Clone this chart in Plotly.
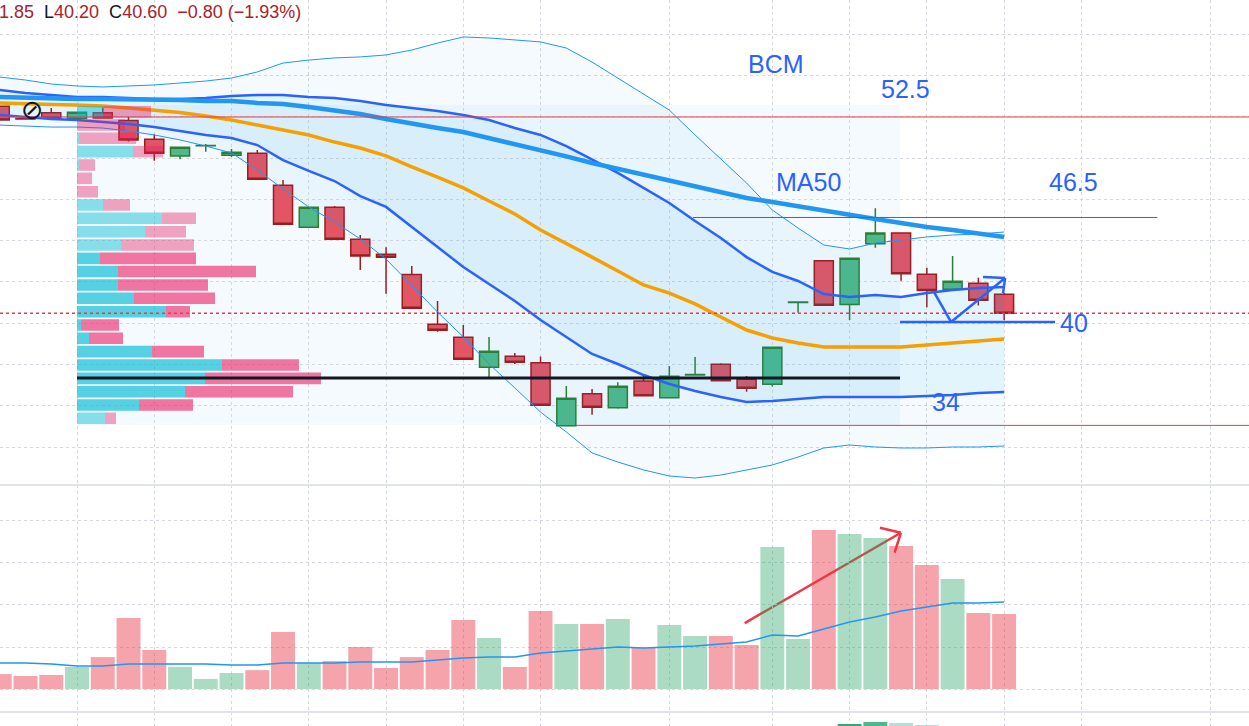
import plotly.graph_objects as go
from plotly.subplots import make_subplots

# 40 daily sessions, bar index 0..39 (last one is the current bar)
bars = list(range(40))

opens = [53.15, 52.40, 52.76, 52.42, 52.75, 52.28, 51.15, 50.14, 50.75, 50.18,
         50.30, 48.36, 45.82, 47.03, 45.09, 44.18, 42.96, 39.94, 39.15, 37.33,
         38.00, 37.61, 33.79, 35.72, 34.88, 36.50, 35.49, 36.87, 37.52, 36.61,
         36.30, 41.26, 43.78, 41.13, 44.82, 45.47, 42.97, 42.06, 42.42, 41.75]
highs = [53.20, 52.42, 53.05, 52.79, 53.20, 52.50, 51.45, 50.67, 50.87, 50.56,
         50.50, 48.68, 47.03, 47.11, 45.35, 44.61, 43.47, 41.35, 39.90, 39.17,
         38.20, 37.98, 36.20, 36.02, 36.42, 36.81, 37.41, 37.96, 37.58, 36.81,
         38.55, 41.28, 43.78, 43.94, 46.97, 45.47, 43.37, 44.08, 42.75, 41.85]
lows = [52.30, 52.36, 52.42, 52.42, 52.44, 51.01, 49.85, 49.94, 50.40, 50.08,
        48.73, 46.00, 45.82, 45.09, 43.23, 41.78, 40.91, 39.49, 37.82, 36.67,
        37.53, 35.03, 33.79, 34.46, 34.82, 35.61, 35.49, 36.86, 36.52, 35.85,
        36.16, 40.64, 41.09, 40.20, 44.58, 42.58, 40.97, 42.06, 41.07, 40.20]
closes = [52.32, 52.38, 52.42, 52.79, 52.44, 51.11, 50.30, 50.67, 50.77, 50.36,
          48.73, 46.00, 47.03, 45.09, 44.08, 44.00, 40.91, 39.58, 37.82, 38.30,
          37.64, 35.03, 35.45, 34.91, 36.18, 35.61, 36.79, 36.89, 36.52, 36.06,
          38.55, 41.28, 41.09, 43.94, 45.47, 43.00, 41.98, 42.55, 41.40, 40.60]

# volume in thousands of shares + its moving average
volume = [71, 62, 67, 105, 152, 338, 186, 105, 48, 76,
          90, 271, 124, 133, 200, 100, 152, 186, 329, 243,
          105, 371, 310, 310, 333, 195, 305, 252, 252, 210,
          676, 238, 757, 738, 719, 681, 590, 524, 362, 357]
volume_ma = [124, 124, 119, 110, 110, 119, 119, 119, 119, 114,
             114, 124, 124, 124, 129, 129, 129, 138, 148, 152,
             152, 171, 181, 190, 200, 195, 200, 205, 214, 224,
             257, 252, 286, 319, 343, 371, 390, 409, 409, 414]

# Bollinger bands (basis, 1 sigma, 2 sigma) and MA50
bb_basis = [53.35, 53.29, 53.26, 53.23, 53.17, 53.05, 52.92, 52.77, 52.56, 52.32,
            52.01, 51.71, 51.41, 50.98, 50.62, 50.14, 49.47, 48.86, 48.20, 47.41,
            46.62, 45.65, 44.80, 44.01, 43.17, 42.32, 41.83, 41.17, 40.38, 39.59,
            39.11, 38.80, 38.56, 38.56, 38.56, 38.56, 38.68, 38.80, 38.92, 39.05]
bb_up1 = [54.14, 53.95, 53.83, 53.71, 53.71, 53.65, 53.59, 53.59, 53.65, 53.77,
          53.83, 53.83, 53.71, 53.65, 53.47, 53.23, 53.05, 52.86, 52.62, 52.32,
          51.83, 51.41, 50.74, 49.95, 49.11, 48.20, 47.29, 46.20, 45.17, 44.01,
          43.11, 42.56, 41.77, 41.59, 41.71, 41.59, 41.83, 42.01, 42.14, 42.20]
bb_dn1 = [52.62, 52.50, 52.38, 52.32, 52.20, 52.08, 51.89, 51.65, 51.41, 51.23,
          50.80, 49.89, 49.23, 48.62, 47.71, 47.05, 45.83, 44.62, 43.41, 42.38,
          41.35, 40.20, 39.17, 38.14, 37.53, 36.86, 36.32, 35.89, 35.53, 35.23,
          35.29, 35.41, 35.53, 35.53, 35.53, 35.53, 35.59, 35.65, 35.77, 35.83]
bb_up2 = [54.92, 54.74, 54.50, 54.38, 54.32, 54.38, 54.44, 54.56, 54.68, 54.86,
          55.23, 55.77, 55.95, 56.08, 56.14, 56.26, 56.56, 56.98, 57.35, 57.29,
          57.17, 57.05, 56.68, 55.83, 54.86, 53.89, 52.92, 51.41, 49.95, 48.50,
          46.86, 45.77, 44.74, 44.50, 44.86, 45.05, 45.23, 45.35, 45.41, 45.53]
bb_dn2 = [52.01, 51.95, 51.89, 51.89, 51.83, 51.65, 51.41, 51.11, 50.74, 50.32,
          49.29, 48.14, 47.05, 46.14, 45.11, 43.89, 42.26, 40.68, 39.17, 37.53,
          36.08, 34.62, 33.41, 32.14, 31.59, 31.11, 30.74, 30.62, 30.80, 31.11,
          31.41, 31.89, 32.44, 32.62, 32.50, 32.44, 32.44, 32.50, 32.50, 32.56]
ma50 = [53.71, 53.65, 53.65, 53.59, 53.59, 53.59, 53.53, 53.53, 53.47, 53.47,
        53.35, 53.29, 53.11, 52.92, 52.68, 52.38, 52.08, 51.83, 51.59, 51.23,
        50.86, 50.50, 50.11, 49.71, 49.35, 49.05, 48.68, 48.32, 47.95, 47.59,
        47.35, 47.08, 46.80, 46.56, 46.32, 46.08, 45.83, 45.65, 45.44, 45.23]

# visible range volume profile (thousands), rows from top to bottom
vp_price = [52.82, 52.01, 51.21, 50.40, 49.59, 48.78, 47.97, 47.17, 46.36, 45.55,
            44.74, 43.93, 43.13, 42.32, 41.51, 40.70, 39.89, 39.09, 38.28, 37.47,
            36.66, 35.85, 35.05, 34.24]
vp_up = [260, 0, 20, 560, 20, 0, 0, 260, 850, 680, 440, 230,
         410, 410, 570, 890, 40, 120, 750, 1450, 1280, 1080, 620, 280]
vp_down = [480, 480, 570, 300, 160, 150, 210, 270, 340, 410, 730, 960,
           1380, 900, 810, 240, 380, 340, 520, 770, 1160, 1080, 540, 110]
vp_value_area = [0, 0, 0, 0, 0, 0, 0, 0, 0, 0, 0, 1,
                 1, 1, 1, 1, 1, 1, 1, 1, 1, 1, 1, 0]
vp_first_bar, vp_last_bar = 3, 34.96
vp_top, vp_bottom, vp_poc = 53.23, 33.83, 36.68

# oscillator pane (only the tops of a few columns are visible)
osc_bars = [33, 34, 35, 36]
osc_vals = [1.2, 4.0, 3.0, 1.0]
osc_colors = ["#3aa57a", "#4fb888", "#b2dfdb", "#b2dfdb"]

# time grid lines fall on these bars
grid_bars = [3, 6, 9, 12, 15, 18, 21, 26, 30, 33, 36, 39, 42, 47]

# hand drawn levels / labels
red_level = 52.5
last_close = 40.60
labels = [("BCM", 30.15, 55.71), ("52.5", 35.19, 54.20), ("MA50", 31.39, 48.56),
          ("46.5", 41.68, 48.56), ("40", 41.72, 40.02), ("34", 36.75, 35.23)]

RED_BODY, RED_LINE = "#e15565", "#9b1c1c"
GREEN_BODY, GREEN_LINE = "#4fb98a", "#2e7d32"
BLUE = "#2962ff"
LIGHT_BLUE = "#2196f3"
GRID = "#d5d8de"

fig = make_subplots(rows=3, cols=1, shared_xaxes=True, vertical_spacing=0,
                    row_heights=[485, 227, 14])

# bollinger bands with fills
fig.add_trace(go.Scatter(x=bars, y=bb_up2, mode="lines", line=dict(color=LIGHT_BLUE, width=1)), row=1, col=1)
fig.add_trace(go.Scatter(x=bars, y=bb_dn2, mode="lines", line=dict(color=LIGHT_BLUE, width=1),
                         fill="tonexty", fillcolor="rgba(33,150,243,0.05)"), row=1, col=1)
fig.add_trace(go.Scatter(x=bars, y=bb_up1, mode="lines", line=dict(color=BLUE, width=2.5)), row=1, col=1)
fig.add_trace(go.Scatter(x=bars, y=bb_dn1, mode="lines", line=dict(color=BLUE, width=2.5),
                         fill="tonexty", fillcolor="rgba(0,170,220,0.07)"), row=1, col=1)
fig.add_trace(go.Scatter(x=bars, y=bb_basis, mode="lines", line=dict(color="#f59f00", width=3.5)), row=1, col=1)
fig.add_trace(go.Scatter(x=bars, y=ma50, mode="lines", line=dict(color=LIGHT_BLUE, width=4.5)), row=1, col=1)

fig.add_trace(go.Candlestick(
    x=bars, open=opens, high=highs, low=lows, close=closes, whiskerwidth=0,
    increasing=dict(fillcolor=GREEN_BODY, line=dict(color=GREEN_LINE, width=1.5)),
    decreasing=dict(fillcolor=RED_BODY, line=dict(color=RED_LINE, width=1.5))), row=1, col=1)

# volume
vol_colors = ["rgba(45,165,105,0.4)" if c >= o else "rgba(235,54,69,0.45)" for o, c in zip(opens, closes)]
fig.add_trace(go.Bar(x=bars, y=volume, marker=dict(color=vol_colors, line=dict(width=0)), width=0.93), row=2, col=1)
fig.add_trace(go.Scatter(x=bars, y=volume_ma, mode="lines", line=dict(color=LIGHT_BLUE, width=1.5)), row=2, col=1)

# oscillator pane
fig.add_trace(go.Bar(x=osc_bars, y=osc_vals, marker=dict(color=osc_colors, line=dict(width=0)), width=0.93), row=3, col=1)

# volume profile on its own overlaid x axis
up_colors = ["rgba(0,188,212,0.65)" if v else "rgba(0,188,212,0.45)" for v in vp_value_area]
down_colors = ["rgba(233,30,99,0.6)" if v else "rgba(233,30,99,0.4)" for v in vp_value_area]
fig.add_trace(go.Bar(y=vp_price, x=vp_up, orientation="h", width=0.7, xaxis="x4", yaxis="y",
                     marker=dict(color=up_colors, line=dict(width=0))))
fig.add_trace(go.Bar(y=vp_price, x=vp_down, base=vp_up, orientation="h", width=0.7, xaxis="x4", yaxis="y",
                     marker=dict(color=down_colors, line=dict(width=0))))

x_range = [0.0097, 48.51]
fig.update_xaxes(range=x_range, tickvals=grid_bars, showticklabels=False, showgrid=True,
                 gridcolor=GRID, griddash="dot", gridwidth=1, zeroline=False, showline=False,
                 rangeslider_visible=False, ticks="")
fig.update_yaxes(showticklabels=False, showgrid=True, gridcolor=GRID, griddash="dot",
                 gridwidth=1, zeroline=False, showline=False, ticks="")
fig.update_yaxes(range=[30.197, 59.59], tick0=0, dtick=2.5, domain=[0.33196, 1], row=1, col=1)
fig.update_yaxes(range=[-109.5, 971.4], tick0=0, dtick=200, domain=[0.01928, 0.33196], row=2, col=1)
fig.update_yaxes(range=[0, 14], showgrid=False, domain=[0, 0.01928], row=3, col=1)

fig.update_layout(
    xaxis4=dict(overlaying="x", anchor="y", range=[-770, 11720], visible=False, showgrid=False),
    width=1249, height=726, margin=dict(l=0, r=0, t=0, b=0),
    paper_bgcolor="white", plot_bgcolor="white", showlegend=False, barmode="overlay",
    boxgap=0.26, boxgroupgap=0, hovermode=False,
    font=dict(family="Liberation Sans, Arial, sans-serif"),
)

# value area box of the profile
fig.add_shape(type="rect", xref="x", yref="y", x0=vp_first_bar, x1=vp_last_bar, y0=vp_bottom, y1=vp_top,
              fillcolor="rgba(33,150,243,0.05)", line=dict(width=0), layer="below")
# point of control
fig.add_shape(type="line", xref="x", yref="y", x0=vp_first_bar, x1=vp_last_bar, y0=vp_poc, y1=vp_poc,
              line=dict(color="#131722", width=3))

# horizontal levels
fig.add_shape(type="line", xref="paper", yref="y", x0=0, x1=1, y0=red_level, y1=red_level,
              line=dict(color="#f23645", width=1))
fig.add_shape(type="line", xref="paper", yref="y", x0=0, x1=1, y0=last_close, y1=last_close,
              line=dict(color="#f23645", width=1.5, dash="dot"))
fig.add_shape(type="line", xref="x", yref="y", x0=26.92, x1=44.95, y0=46.41, y1=46.41,
              line=dict(color=BLUE, width=1))
fig.add_shape(type="line", xref="x", yref="y", x0=34.96, x1=40.98, y0=40.07, y1=40.07,
              line=dict(color=BLUE, width=2.5))
fig.add_shape(type="line", xref="x", yref="y", x0=22.37, x1=x_range[1], y0=33.81, y1=33.81,
              line=dict(color="#e0404e", width=1))


def polyline(xs, ys, color, width, yref, layer="above"):
    for x0, y0, x1, y1 in zip(xs[:-1], ys[:-1], xs[1:], ys[1:]):
        fig.add_shape(type="line", xref="x", yref=yref, x0=x0, y0=y0, x1=x1, y1=y1,
                      line=dict(color=color, width=width), layer=layer)


# drawn arrows
polyline([36.28, 36.94, 39.04], [41.89, 40.08, 42.74], BLUE, 2.5, "y")
polyline([38.18, 39.04, 38.96], [42.80, 42.74, 41.83], BLUE, 2.5, "y")
polyline([28.93, 34.99], [314, 744], "#f23645", 2.5, "y2", layer="below")
polyline([34.18, 34.99, 34.75], [768, 744, 649], "#f23645", 2.5, "y2", layer="below")

# pane separators
for yp in [0.33196, 0.01928]:
    fig.add_shape(type="line", xref="paper", yref="paper", x0=0, x1=1, y0=yp, y1=yp,
                  line=dict(color="#e0e3eb", width=2))

for text, bx, py in labels:
    fig.add_annotation(x=bx, y=py, xref="x", yref="y", text=text, showarrow=False,
                       font=dict(size=25, color=BLUE, family="Liberation Sans"))

# hidden-event marker near the first bars
fig.add_annotation(x=1.29, y=52.95, xref="x", yref="y", text="\u2298", showarrow=False,
                   font=dict(size=27, color="#131722", family="DejaVu Sans"))

# legend line of the main series
red_txt = "#a8222c"
legend = (f"<span style='color:{red_txt}'>1.85</span>\u00a0\u00a0"
          f"L<span style='color:{red_txt}'>40.20</span>\u00a0\u00a0"
          f"C<span style='color:{red_txt}'>40.60</span>\u00a0\u00a0"
          f"<span style='color:{red_txt}'>\u22120.80 (\u22121.93%)</span>")
fig.add_annotation(x=0, y=1, xref="paper", yref="paper", xanchor="left", yanchor="top",
                   text=legend, showarrow=False, xshift=-3, yshift=0,
                   font=dict(size=18, color="#131722", family="Liberation Sans"))

# page body margin would shift the chart by 8px
fig.write_html("out.html", config={"displayModeBar": False},
               post_script="document.body.style.margin='0';")
